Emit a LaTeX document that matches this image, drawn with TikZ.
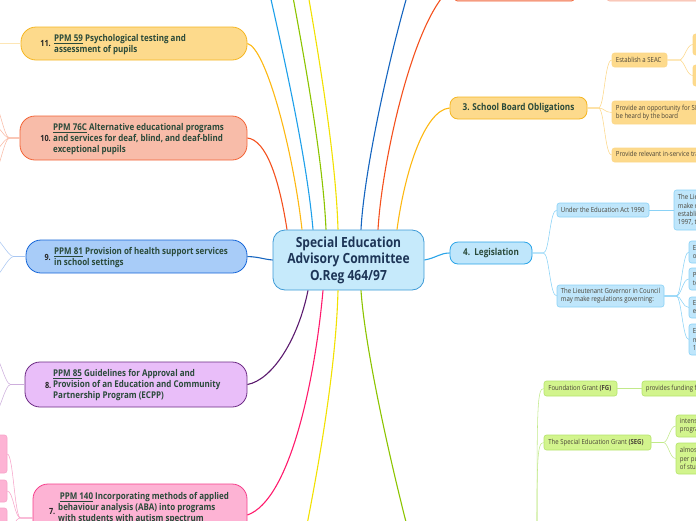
\documentclass[tikz,border=0pt]{standalone}
\usepackage{fontspec}
\setmainfont{Open Sans}[FakeStretch=0.86]
\definecolor{cfill}{HTML}{C6EAFB}
\definecolor{cdraw}{HTML}{3D9AD6}
\definecolor{ctext}{HTML}{1D3557}
\definecolor{gtext}{HTML}{2A4A3A}
\definecolor{ofill}{HTML}{FDDA8C}
\definecolor{odraw}{HTML}{F5B622}
\definecolor{oline}{HTML}{FDB813}
\definecolor{osub}{HTML}{FCD788}
\definecolor{osubl}{HTML}{FDE6B5}
\definecolor{rfill}{HTML}{F8BCA9}
\definecolor{rdraw}{HTML}{F26436}
\definecolor{rline}{HTML}{F4511E}
\definecolor{rsub}{HTML}{F9BBA6}
\definecolor{r2fill}{HTML}{FBD3C6}
\definecolor{r2draw}{HTML}{F7B4A2}
\definecolor{bfill}{HTML}{A8CCF8}
\definecolor{bdraw}{HTML}{1565D8}
\definecolor{bline}{HTML}{1565C0}
\definecolor{bsub}{HTML}{A9C7F2}
\definecolor{pfill}{HTML}{E9BEF9}
\definecolor{pdraw}{HTML}{6C2B84}
\definecolor{pline}{HTML}{5B1A6E}
\definecolor{psub}{HTML}{CDAEDC}
\definecolor{kfill}{HTML}{FDB3D4}
\definecolor{kdraw}{HTML}{F53F8C}
\definecolor{kline}{HTML}{FF1A6C}
\definecolor{ksub}{HTML}{F7A3C9}
\definecolor{lfill}{HTML}{BFE6FB}
\definecolor{ldraw}{HTML}{2AA4E8}
\definecolor{lsub}{HTML}{8AD2F6}
\definecolor{gfill}{HTML}{D2F48D}
\definecolor{gdraw}{HTML}{B5E36C}
\definecolor{gline}{HTML}{8CC400}
\definecolor{gsub}{HTML}{C2E98A}
\definecolor{yline}{HTML}{F2E100}
\definecolor{cyline}{HTML}{1EA0EA}
\definecolor{stext}{HTML}{4A4438}
\begin{document}
\begin{tikzpicture}[x=1pt,y=-1pt,
  bigbox/.style={draw, line width=0.8pt, rounded corners=15pt, inner sep=0pt},
  smallbox/.style={draw, line width=0.6pt, rounded corners=2.5pt, inner sep=0pt},
  mainline/.style={line width=1.1pt},
  subline/.style={line width=0.55pt},
  ltxt/.style={anchor=west, align=left, inner sep=0pt, text=gtext, font=\fontsize{9.3}{11}\selectfont\bfseries},
  numtxt/.style={anchor=east, inner sep=0pt, font=\fontsize{8.5}{10}\selectfont\bfseries, text=black!85},
  stxt/.style={anchor=west, align=left, inner sep=0pt, font=\fontsize{7}{8.3}\selectfont, text=stext},
  headtxt/.style={inner sep=0pt, text=gtext, font=\fontsize{9.5}{11}\selectfont\bfseries}]
\useasboundingbox (0,0) rectangle (696,520);

% ---------- central node
\node[draw=cdraw, fill=cfill, line width=0.8pt, rounded corners=12pt, minimum width=151pt, minimum height=60pt,
      align=center, text=ctext, font=\fontsize{14}{16.6}\selectfont\bfseries, inner sep=0pt] (c) at (348.5,260)
      {Special Education\\Advisory Committee\\O.Reg 464/97};

% ---------- left main nodes
\node[bigbox, fill=ofill, draw=odraw, minimum width=226pt, minimum height=33pt] (n11) at (134,43.5) {};
\node[numtxt] (n11n) at (51,44) {11.};
\node[ltxt] (n11t) at (54,44.5) {\underline{PPM 59} Psychological testing and\\assessment of pupils};

\node[bigbox, fill=rfill, draw=rdraw, minimum width=227pt, minimum height=44pt] (n10) at (133.5,138) {};
\node[numtxt] (n10n) at (51,138.5) {10.};
\node[ltxt] (n10t) at (53,139) {\underline{PPM 76C} Alternative educational programs\\and services for deaf, blind, and deaf-blind\\exceptional pupils};

\node[bigbox, fill=bfill, draw=bdraw, minimum width=221pt, minimum height=33pt] (n9) at (136.5,256.5) {};
\node[numtxt] (n9n) at (51,257) {9.};
\node[ltxt] (n9t) at (54,257.5) {\underline{PPM 81} Provision of health support services\\in school settings};

\node[bigbox, fill=pfill, draw=pdraw, minimum width=222pt, minimum height=45pt] (n8) at (136,384.5) {};
\node[numtxt] (n8n) at (51.5,385) {8.};
\node[ltxt] (n8t) at (53,385.5) {\underline{PPM 85} Guidelines for Approval and\\Provision of an Education and Community\\Partnership Program (ECPP)};

\node[bigbox, fill=kfill, draw=kdraw, minimum width=214pt, minimum height=62pt] (n7) at (140,515) {};
\node[numtxt] (n7n) at (55.5,512) {7.};
\node[ltxt] (n7t) at (58,508.5) {\,\underline{PPM 140} Incorporating methods of applied\\behaviour analysis (ABA) into programs\\with students with autism spectrum};

% ---------- left off-canvas ends
\coordinate (l11) at (-6,43.5);
\coordinate (l10a) at (-8,100);
\coordinate (l10b) at (-8,124);
\coordinate (l10c) at (-8,152);
\coordinate (l10d) at (-8,176);
\coordinate (l9a) at (-8,236);
\coordinate (l9b) at (-8,279);
\coordinate (l8a) at (-8,352);
\coordinate (l8b) at (-8,417);
\node[smallbox, fill=kfill, draw=ksub, minimum width=27pt, minimum height=38pt] (p1) at (-6.5,454) {};
\node[smallbox, fill=kfill, draw=ksub, minimum width=27pt, minimum height=22pt] (p2) at (-6.5,491) {};
\node[smallbox, fill=kfill, draw=ksub, minimum width=27pt, minimum height=44pt] (p3) at (-6.5,530) {};

% ---------- top off-canvas
\node[smallbox, fill=rfill, draw=rdraw, line width=0.8pt, minimum width=119pt, minimum height=31pt] (tr1) at (514.5,-14.5) {};
\node[smallbox, fill=r2fill, draw=r2draw, minimum width=106pt, minimum height=31pt] (tr2) at (660,-14.5) {};
\coordinate (tcy) at (262,-40);
\coordinate (tgr) at (286,-40);
\coordinate (tye) at (302,-40);
\coordinate (tbl) at (418,-40);
\coordinate (bye) at (303,545);
\coordinate (bgr) at (412,545);
\coordinate (gpar) at (537,560);

% ---------- right main nodes
\node[draw=odraw, fill=ofill, line width=0.8pt, rounded corners=8pt, minimum width=137pt, minimum height=22pt, inner sep=0pt] (sb) at (518.5,108) {};
\node[headtxt] (sbt) at (sb.center) {3. School Board Obligations};
\node[draw=ldraw, fill=lfill, line width=0.8pt, rounded corners=8pt, minimum width=82pt, minimum height=22pt, inner sep=0pt] (leg) at (491,253) {};
\node[headtxt] (legt) at (leg.center) {4.\ \ Legislation};

% school board children
\node[smallbox, fill=ofill, draw=osub, minimum width=55pt, minimum height=14pt] (seac) at (639.5,60) {};
\node[stxt] at ([xshift=4pt]seac.west) {Establish a SEAC};
\node[smallbox, fill=ofill, draw=osub, minimum width=120pt, minimum height=23pt] (opp) at (672,112.5) {};
\node[stxt] at ([xshift=4pt]opp.west) {Provide an opportunity for SEAC to\\be heard by the board};
\node[smallbox, fill=ofill, draw=osub, minimum width=128pt, minimum height=14pt] (inserv) at (676,155) {};
\node[stxt] at ([xshift=4pt]inserv.west) {Provide relevant in-service training};
\node[smallbox, fill=ofill, draw=osub, minimum width=47pt, minimum height=21pt] (seacA) at (716.5,44.5) {};
\node[smallbox, fill=ofill, draw=osub, minimum width=47pt, minimum height=21pt] (seacB) at (716.5,75.5) {};

% legislation children
\node[smallbox, fill=lfill, draw=lsub, minimum width=92pt, minimum height=14pt] (und) at (603,210) {};
\node[stxt] at ([xshift=4pt]und.west) {Under the Education Act 1990};
\node[smallbox, fill=lfill, draw=lsub, minimum width=107pt, minimum height=22pt] (gov) at (610.5,296) {};
\node[stxt] at ([xshift=4pt]gov.west) {The Lieutenant Governor in Council\\may make regulations governing:};
\node[smallbox, fill=lfill, draw=lsub, minimum width=66pt, minimum height=40pt] (li) at (707,210) {};
\node[stxt] at ([xshift=4pt]li.west) {The Lieutenant\\make regulations\\establishing\\1997, the};
\node[smallbox, fill=lfill, draw=lsub, minimum width=51pt, minimum height=22pt] (g1) at (714.5,252) {};
\node[stxt] at ([xshift=4pt]g1.west) {Establishment\\of SEACs};
\node[smallbox, fill=lfill, draw=lsub, minimum width=51pt, minimum height=22pt] (g2) at (714.5,279) {};
\node[stxt] at ([xshift=4pt]g2.west) {Procedures\\to follow};
\node[smallbox, fill=lfill, draw=lsub, minimum width=51pt, minimum height=21pt] (g3) at (714.5,307.5) {};
\node[stxt] at ([xshift=4pt]g3.west) {Eligibility\\expenses};
\node[smallbox, fill=lfill, draw=lsub, minimum width=51pt, minimum height=31pt] (g4) at (714.5,339.5) {};
\node[stxt] at ([xshift=4pt]g4.west) {Each board\\members\\1997};

% grants
\node[smallbox, fill=gfill, draw=gdraw, minimum width=73pt, minimum height=15pt] (fg) at (580.5,388.5) {};
\node[stxt] at ([xshift=4.5pt]fg.west) {Foundation Grant \textbf{(FG)}};
\node[smallbox, fill=gfill, draw=gdraw, minimum width=118pt, minimum height=15pt] (fund) at (701,388.5) {};
\node[stxt] at ([xshift=4pt]fund.west) {provides funding for};
\node[smallbox, fill=gfill, draw=gdraw, minimum width=107pt, minimum height=15pt] (seg) at (597.5,442.5) {};
\node[stxt] at ([xshift=4.5pt]seg.west) {The Special Education Grant \textbf{(SEG)}};
\node[smallbox, fill=gfill, draw=gdraw, minimum width=64pt, minimum height=22pt] (segA) at (708,426) {};
\node[stxt] at ([xshift=4pt]segA.west) {intensive\\programs};
\node[smallbox, fill=gfill, draw=gdraw, minimum width=64pt, minimum height=31pt] (segB) at (708,458.5) {};
\node[stxt] at ([xshift=4pt]segB.west) {almost\\per pupil\\of students};

% ---------- main connectors
\draw[mainline, rline] (n10.east) .. controls (266,140) and (279,178) .. ([xshift=-61.5pt]c.north);
\draw[mainline, oline] (n11.east) .. controls (266,48) and (293,150) .. ([xshift=-46.5pt]c.north);
\draw[mainline, cyline] ([xshift=-35.5pt]c.north) .. controls (307,160) and (285,60) .. (tcy);
\draw[mainline, gline] ([xshift=-22.5pt]c.north) .. controls (323,160) and (305,60) .. (tgr);
\draw[mainline, yline] ([xshift=-10.5pt]c.north) .. controls (336,160) and (320,60) .. (tye);
\draw[mainline, bline] ([xshift=12.5pt]c.north) .. controls (364,170) and (392,40) .. (tbl);
\draw[mainline, rline] ([xshift=29.5pt]c.north) .. controls (382,160) and (415,10) .. (tr1.west);
\draw[mainline, oline] ([xshift=48.5pt]c.north) .. controls (405,170) and (425,110) .. (sb.west);
\draw[mainline, bline] (n9.east) .. controls (260,257) and (262,259) .. (c.west);
\draw[mainline, ldraw] (c.east) .. controls (436,258) and (440,253) .. (leg.west);
\draw[mainline, pline] ([xshift=-40.5pt]c.south) .. controls (298,340) and (272,380) .. (n8.east);
\draw[mainline, kline] ([xshift=-25.5pt]c.south) .. controls (315,380) and (290,500) .. (n7.east);
\draw[mainline, yline] ([xshift=-10.5pt]c.south) .. controls (336,370) and (318,470) .. (bye);
\draw[mainline, gline] ([xshift=12.5pt]c.south) .. controls (365,350) and (392,470) .. (bgr);

% ---------- sub-branches right
\foreach \t in {seac,opp,inserv}
  \draw[subline, osub] (sb.east) -- ++(11,0) .. controls +(6,0) and +(-7,0) .. (\t.west);
\foreach \t in {seacA,seacB}
  \draw[subline, osub] (seac.east) -- ++(12,0) .. controls +(5,0) and +(-6,0) .. (\t.west);
\foreach \t in {und,gov}
  \draw[subline, lsub] (leg.east) -- ++(11,0) .. controls +(6,0) and +(-7,0) .. (\t.west);
\draw[subline, lsub] (und.east) -- (li.west);
\foreach \t in {g1,g2,g3,g4}
  \draw[subline, lsub] (gov.east) -- ++(12,0) .. controls +(5,0) and +(-6,0) .. (\t.west);
\draw[subline, gsub] (gpar) .. controls +(0,-150) and +(-7,0) .. (fg.west);
\draw[subline, gsub] (gpar) .. controls +(0,-100) and +(-7,0) .. (seg.west);
\draw[subline, gsub] (fg.east) -- (fund.west);
\foreach \t in {segA,segB}
  \draw[subline, gsub] (seg.east) -- ++(12,0) .. controls +(5,0) and +(-6,0) .. (\t.west);

% ---------- sub-branches left
\draw[subline, osubl] (n11.west) -- (l11);
\foreach \t in {l10a,l10b,l10c,l10d}
  \draw[subline, rsub] (n10.west) -- ++(-10,0) .. controls +(-6,0) and +(7,0) .. (\t);
\foreach \t in {l9a,l9b}
  \draw[subline, bsub] (n9.west) -- ++(-12,0) .. controls +(-6,0) and +(7,0) .. (\t);
\foreach \t in {l8a,l8b}
  \draw[subline, psub] (n8.west) -- ++(-14,0) .. controls +(-6,0) and +(7,0) .. (\t);
\foreach \t in {p1,p2,p3}
  \draw[subline, ksub] ([yshift=-3pt]n7.west) -- ++(-12,0) .. controls +(-6,0) and +(6,0) .. (\t.east);
\end{tikzpicture}
\end{document}
